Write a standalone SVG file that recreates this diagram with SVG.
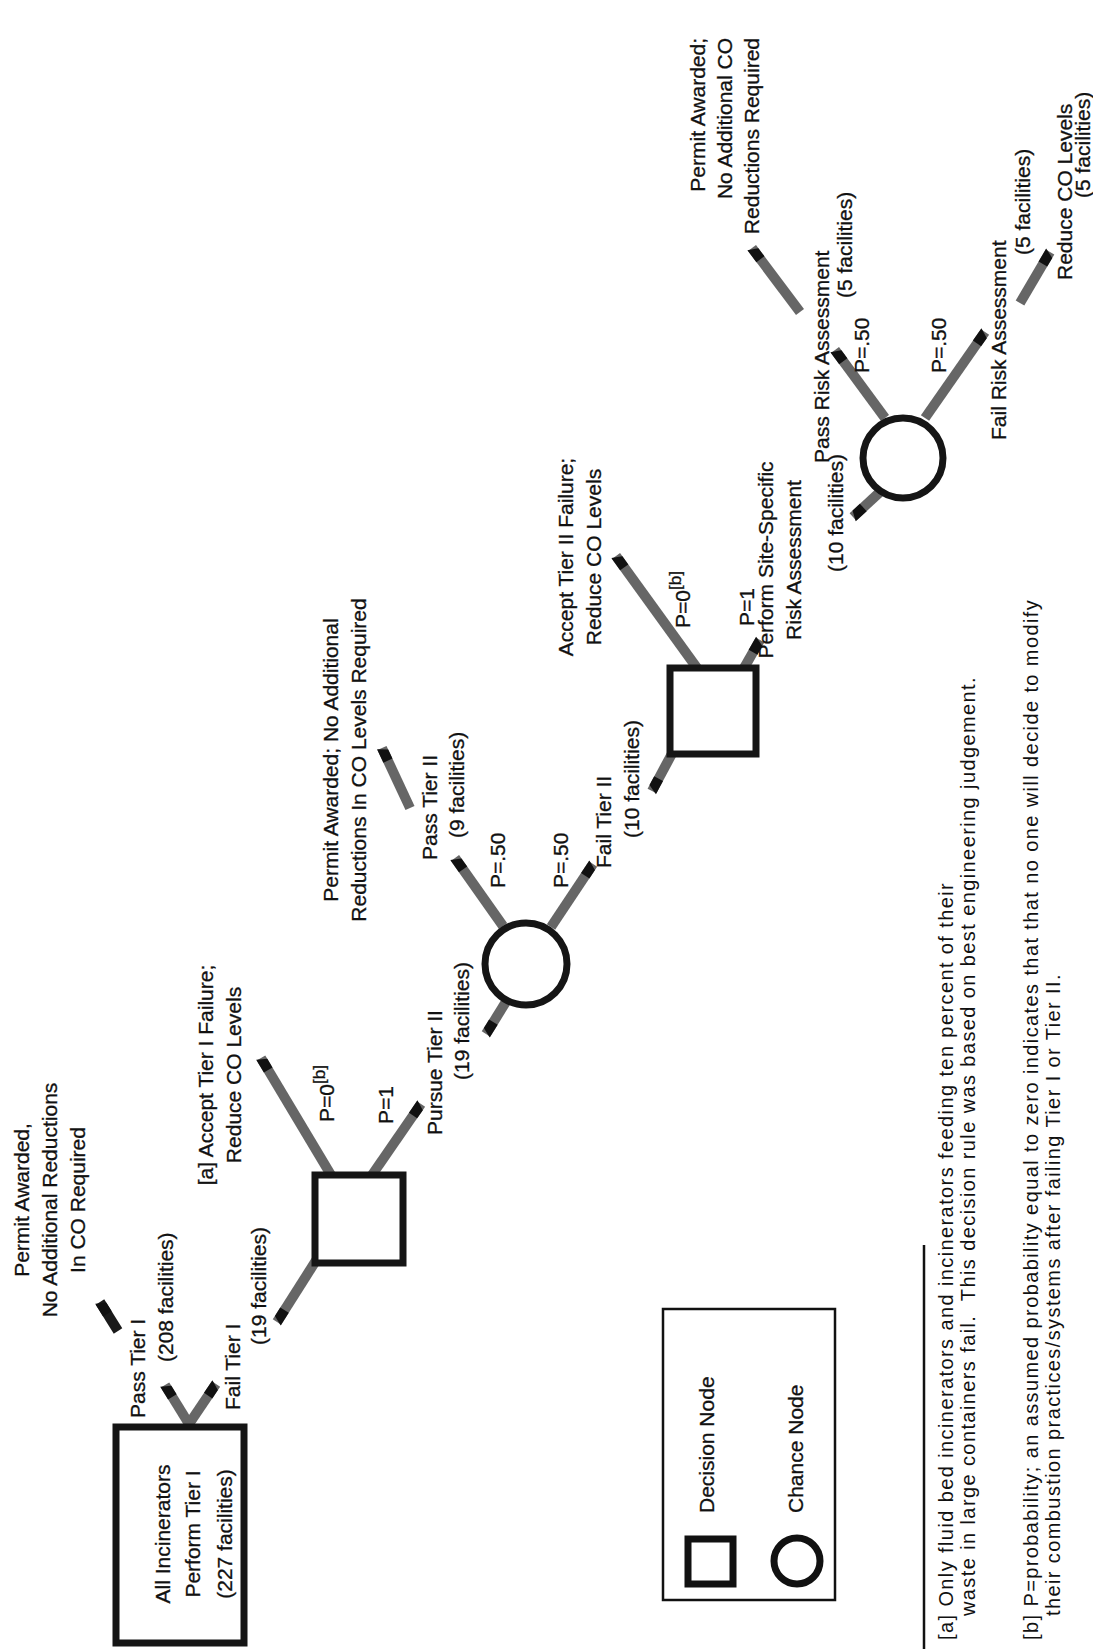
<svg xmlns="http://www.w3.org/2000/svg" width="1093" height="1649" viewBox="0 0 1093 1649">
<style>
.t{font-family:'Liberation Sans',Arial,sans-serif;font-size:21px;fill:#111;stroke:#111;stroke-width:0.3px}
.f{font-family:'Liberation Sans',Arial,sans-serif;font-size:20px;letter-spacing:1.4px;fill:#111;white-space:pre}
.sup{font-size:17px}
.node{fill:#fff;stroke:#151515;stroke-width:7}
.conn{stroke:#666;stroke-width:10;fill:none;marker-end:url(#tip)}
.dark{stroke:#1a1a1a}
</style>
<defs>
<marker id="tip" markerUnits="userSpaceOnUse" markerWidth="20" markerHeight="12" refX="0" refY="0" orient="auto" overflow="visible" viewBox="-16 -6 20 12">
<path d="M-14,-5 L1,-5 L-4,5 L-14,5 Z" fill="#111"/>
</marker>
</defs>
<rect width="1093" height="1649" fill="#fff"/>

<g id="connectors">
<line class="conn" x1="189" y1="1424" x2="165" y2="1385"/>
<line class="conn" x1="189" y1="1424" x2="216" y2="1384"/>
<line class="conn dark" x1="118" y1="1331" x2="100" y2="1302"/>
<line class="conn" x1="317" y1="1259" x2="277" y2="1322"/>
<line class="conn" x1="331" y1="1175" x2="261" y2="1058"/>
<line class="conn" x1="372" y1="1175" x2="421" y2="1104"/>
<line class="conn" x1="509" y1="997" x2="486" y2="1034"/>
<line class="conn" x1="503" y1="926" x2="455" y2="858"/>
<line class="conn" x1="551" y1="927" x2="593" y2="864"/>
<line class="conn" x1="410" y1="808" x2="382" y2="748"/>
<line class="conn" x1="675" y1="748" x2="652" y2="791"/>
<line class="conn" x1="697" y1="668" x2="616" y2="556"/>
<line class="conn" x1="744" y1="668" x2="760" y2="640"/>
<line class="conn" x1="880" y1="492" x2="853" y2="517"/>
<line class="conn" x1="885" y1="418" x2="835" y2="350"/>
<line class="conn" x1="925" y1="418" x2="985" y2="332"/>
<line class="conn" x1="800" y1="312" x2="752" y2="248"/>
<line class="conn" x1="1020" y1="303" x2="1050" y2="252"/>
</g>

<g id="start">
<rect class="node" x="116" y="1427" width="128" height="216" stroke-width="5"/>
<text class="t" text-anchor="middle" transform="translate(170,1534) rotate(-90)"><tspan x="0" y="0">All Incinerators</tspan><tspan x="0" y="30">Perform Tier I</tspan><tspan x="0" y="62">(227 facilities)</tspan></text>
</g>

<g id="out-pass1">
<text class="t" text-anchor="middle" transform="translate(29,1200) rotate(-90)"><tspan x="0" y="0">Permit Awarded,</tspan><tspan x="0" y="28">No Additional Reductions</tspan><tspan x="0" y="56">In CO Required</tspan></text>
</g>

<g id="labels-tier1">
<text class="t" transform="translate(145,1418) rotate(-90)">Pass Tier I</text>
<text class="t" transform="translate(173,1362) rotate(-90)">(208 facilities)</text>
<text class="t" transform="translate(240,1410) rotate(-90)">Fail Tier I</text>
<text class="t" transform="translate(266,1345) rotate(-90)">(19 facilities)</text>
</g>

<g id="decision1">
<rect class="node" x="315" y="1175" width="88" height="88"/>
<text class="t" transform="translate(334,1122) rotate(-90)">P=0<tspan class="sup" dy="-9">[b]</tspan></text>
<text class="t" transform="translate(393,1124) rotate(-90)">P=1</text>
</g>

<g id="out-accept1">
<text class="t" text-anchor="middle" transform="translate(213,1075) rotate(-90)"><tspan x="0" y="0">[a] Accept Tier I Failure;</tspan><tspan x="0" y="28">Reduce CO Levels</tspan></text>
</g>

<g id="labels-pursue">
<text class="t" transform="translate(442,1135) rotate(-90)">Pursue Tier II</text>
<text class="t" transform="translate(469,1080) rotate(-90)">(19 facilities)</text>
</g>

<g id="chance1">
<circle class="node" cx="526" cy="964" r="41" stroke-width="8"/>
<text class="t" transform="translate(505,888) rotate(-90)">P=.50</text>
<text class="t" transform="translate(568,888) rotate(-90)">P=.50</text>
</g>

<g id="labels-tier2">
<text class="t" transform="translate(437,860) rotate(-90)">Pass Tier II</text>
<text class="t" transform="translate(464,838) rotate(-90)">(9 facilities)</text>
<text class="t" transform="translate(611,868) rotate(-90)">Fail Tier II</text>
<text class="t" transform="translate(639,838) rotate(-90)">(10 facilities)</text>
</g>

<g id="out-pass2">
<text class="t" text-anchor="middle" transform="translate(338,760) rotate(-90)"><tspan x="0" y="0">Permit Awarded; No Additional</tspan><tspan x="0" y="28">Reductions In CO Levels Required</tspan></text>
</g>

<g id="decision2">
<rect class="node" x="670" y="668" width="86" height="86"/>
<text class="t" transform="translate(690,628) rotate(-90)">P=0<tspan class="sup" dy="-9">[b]</tspan></text>
<text class="t" transform="translate(754,626) rotate(-90)">P=1</text>
</g>

<g id="out-accept2">
<text class="t" text-anchor="middle" transform="translate(573,557) rotate(-90)"><tspan x="0" y="0">Accept Tier II Failure;</tspan><tspan x="0" y="28">Reduce CO Levels</tspan></text>
</g>

<g id="labels-risk">
<text class="t" text-anchor="middle" transform="translate(773,560) rotate(-90)"><tspan x="0" y="0">Perform Site-Specific</tspan><tspan x="0" y="28">Risk Assessment</tspan></text>
<text class="t" transform="translate(843,572) rotate(-90)">(10 facilities)</text>
</g>

<g id="chance2">
<circle class="node" cx="903" cy="458" r="40" stroke-width="8"/>
<text class="t" transform="translate(869,373) rotate(-90)">P=.50</text>
<text class="t" transform="translate(946,373) rotate(-90)">P=.50</text>
</g>

<g id="labels-riskresult">
<text class="t" transform="translate(829,463) rotate(-90)">Pass Risk Assessment</text>
<text class="t" transform="translate(852,298) rotate(-90)">(5 facilities)</text>
<text class="t" transform="translate(1006,440) rotate(-90)">Fail Risk Assessment</text>
<text class="t" transform="translate(1030,255) rotate(-90)">(5 facilities)</text>
</g>

<g id="out-pass3">
<text class="t" text-anchor="end" transform="translate(705,38) rotate(-90)"><tspan x="0" y="0">Permit Awarded;</tspan><tspan x="0" y="27">No Additional CO</tspan><tspan x="0" y="54">Reductions Required</tspan></text>
</g>

<g id="out-fail3">
<text class="t" transform="translate(1072,280) rotate(-90)">Reduce CO Levels</text>
<text class="t" transform="translate(1090,198) rotate(-90)">(5 facilities)</text>
</g>

<g id="legend">
<rect x="663" y="1309" width="172" height="291" fill="none" stroke="#111" stroke-width="2.5"/>
<rect x="688" y="1539" width="45" height="45" fill="#fff" stroke="#111" stroke-width="7"/>
<circle cx="797" cy="1561" r="23" fill="#fff" stroke="#111" stroke-width="7"/>
<text class="t" transform="translate(714,1513) rotate(-90)">Decision Node</text>
<text class="t" transform="translate(803,1513) rotate(-90)">Chance Node</text>
</g>

<g id="footnotes">
<line x1="924" y1="1245" x2="924" y2="1649" stroke="#111" stroke-width="2.5"/>
<text class="f" transform="translate(953,1640) rotate(-90)">[a] Only fluid bed incinerators and incinerators feeding ten percent of their</text>
<text class="f" transform="translate(975,1616) rotate(-90)">waste in large containers fail.  This decision rule was based on best engineering judgement.</text>
<text class="f" transform="translate(1038,1640) rotate(-90)">[b] P=probability; an assumed probability equal to zero indicates that that no one will decide to modify</text>
<text class="f" transform="translate(1060,1616) rotate(-90)">their combustion practices/systems after failing Tier I or Tier II.</text>
</g>
</svg>
